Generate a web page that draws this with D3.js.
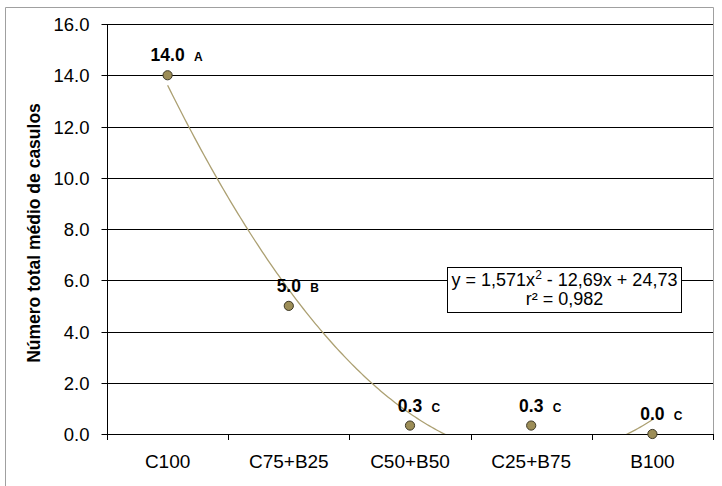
<!DOCTYPE html>
<html>
<head>
<meta charset="utf-8">
<script src="https://cdn.jsdelivr.net/npm/d3@7"></script>
<style>
  body { margin: 0; background: #fff; }
  svg { display: block; font-family: Arial, "Liberation Sans", sans-serif; }
</style>
</head>
<body>
<svg id="chart" width="722" height="486"></svg>
<script>
!(function(){
    "use strict";

    // dados
    const categories = ['C100', 'C75+B25', 'C50+B50', 'C25+B75', 'B100'];
    const means = [14.0, 5.0, 0.33, 0.33, 0.0];
    const valueLabels = ['14.0', '5.0', '0.3', '0.3', '0.0'];
    const letters = ['A', 'B', 'C', 'C', 'C'];
    const yTicks = [0, 2, 4, 6, 8, 10, 12, 14, 16];
    const trendCoef = [1.571, -12.69, 24.73];   // y = a x² + b x + c
    const eqLine1 = ['y = 1,571x', '2', ' - 12,69x + 24,73'];
    const eqLine2 = 'r² = 0,982';

    const plot = { left: 107, right: 713, top: 24, bottom: 434 },
        svg = d3.select('#chart');

    let x = d3.scaleBand().domain(categories).range([plot.left, plot.right]),
        xNum = d3.scaleLinear().domain([0.5, categories.length + 0.5]).range([plot.left, plot.right]),
        y = d3.scaleLinear().domain([0, 16]).range([plot.bottom, plot.top]);

    // moldura externa
    svg.append('path')
        .attr('d', 'M5.5,486 V7.5 H713.5 V440')
        .attr('fill', 'none')
        .attr('stroke', '#a0a0a0')
        .attr('stroke-width', 1);

    // grade horizontal
    svg.append('g')
        .selectAll('line')
        .data(yTicks.filter(d => d > 0))
        .enter()
        .append('line')
        .attr('x1', plot.left).attr('x2', plot.right)
        .attr('y1', d => Math.round(y(d)) + 0.5).attr('y2', d => Math.round(y(d)) + 0.5)
        .attr('stroke', '#000')
        .attr('stroke-width', 1.2);

    // eixo Y
    let yAxis = svg.append('g')
        .attr('transform', `translate(${plot.left + 0.5},0)`)
        .call(d3.axisLeft(y).tickValues(yTicks).tickFormat(d3.format('.1f')).tickSize(6).tickPadding(12));
    yAxis.select('.domain').remove();
    yAxis.selectAll('.tick line').attr('stroke', '#000');
    yAxis.selectAll('.tick text').attr('font-size', 18.5).attr('fill', '#000').attr('dy', '0.36em');
    yAxis.selectAll('.tick').attr('transform', d => `translate(0,${Math.round(y(d)) + 0.5})`);
    yAxis.append('line')
        .attr('y1', plot.top).attr('y2', plot.bottom)
        .attr('stroke', '#000');

    // eixo X
    let xAxis = svg.append('g')
        .attr('transform', `translate(0,${plot.bottom + 0.5})`)
        .call(d3.axisBottom(x).tickSize(0).tickPadding(20));
    xAxis.select('.domain').remove();
    xAxis.selectAll('.tick text').attr('font-size', 19).attr('fill', '#000');
    svg.append('line')
        .attr('x1', plot.left).attr('x2', plot.right)
        .attr('y1', plot.bottom + 0.5).attr('y2', plot.bottom + 0.5)
        .attr('stroke', '#000')
        .attr('stroke-width', 1.2);
    svg.append('g')
        .selectAll('line')
        .data(categories.map((c, i) => i + 0.5).concat([categories.length + 0.5]))
        .enter()
        .append('line')
        .attr('x1', d => Math.round(xNum(d)) + 0.5).attr('x2', d => Math.round(xNum(d)) + 0.5)
        .attr('y1', plot.bottom).attr('y2', plot.bottom + 6)
        .attr('stroke', '#000');

    // linha de tendência polinomial
    svg.append('clipPath').attr('id', 'plotClip')
        .append('rect')
        .attr('x', plot.left).attr('y', plot.top)
        .attr('width', plot.right - plot.left).attr('height', plot.bottom - plot.top);
    let trendPts = d3.range(1, categories.length + 0.001, 0.02)
        .map(t => [t, trendCoef[0] * t * t + trendCoef[1] * t + trendCoef[2]]);
    svg.append('path')
        .datum(trendPts)
        .attr('clip-path', 'url(#plotClip)')
        .attr('fill', 'none')
        .attr('stroke', '#aca072')
        .attr('stroke-width', 1.3)
        .attr('d', d3.line().x(d => xNum(d[0])).y(d => y(d[1])));

    // pontos
    svg.append('g')
        .selectAll('circle')
        .data(means)
        .enter()
        .append('circle')
        .attr('cx', (d, i) => xNum(i + 1))
        .attr('cy', d => y(d))
        .attr('r', 4.6)
        .attr('fill', '#9c8d57')
        .attr('stroke', '#3d3826')
        .attr('stroke-width', 1);

    // rótulos dos valores + letras
    let lbl = svg.append('g')
        .selectAll('text')
        .data(means)
        .enter()
        .append('text')
        .attr('x', (d, i) => xNum(i + 1))
        .attr('y', d => y(d) - 14)
        .attr('text-anchor', 'middle')
        .attr('font-size', 17.5)
        .attr('font-weight', 'bold')
        .attr('fill', '#000')
        .text((d, i) => valueLabels[i]);
    lbl.each(function(d, i) {
        let bb = this.getBBox();
        svg.append('text')
            .attr('x', bb.x + bb.width + 9)
            .attr('y', y(d) - 14)
            .attr('font-size', 12)
            .attr('font-weight', 'bold')
            .attr('fill', '#000')
            .text(letters[i]);
    });

    // caixa da equação
    let eq = svg.append('g');
    eq.append('rect')
        .attr('x', 447.5).attr('y', 267.5)
        .attr('width', 234).attr('height', 45)
        .attr('fill', '#fff')
        .attr('stroke', '#000');
    let t1 = eq.append('text')
        .attr('x', 564.5).attr('y', 286)
        .attr('text-anchor', 'middle')
        .attr('font-size', 18)
        .attr('fill', '#000');
    t1.append('tspan').text(eqLine1[0]);
    t1.append('tspan').attr('font-size', 12).attr('dy', -7).text(eqLine1[1]);
    t1.append('tspan').attr('dy', 7).text(eqLine1[2]);
    eq.append('text')
        .attr('x', 564.5).attr('y', 305)
        .attr('text-anchor', 'middle')
        .attr('font-size', 18)
        .attr('fill', '#000')
        .text(eqLine2);

    // título do eixo Y
    svg.append('text')
        .attr('transform', `translate(40,${(plot.top + plot.bottom) / 2 + 4}) rotate(-90)`)
        .attr('text-anchor', 'middle')
        .attr('font-size', 17.5)
        .attr('font-weight', 'bold')
        .attr('fill', '#000')
        .text('Número total médio de casulos');
}());
</script>
</body>
</html>
